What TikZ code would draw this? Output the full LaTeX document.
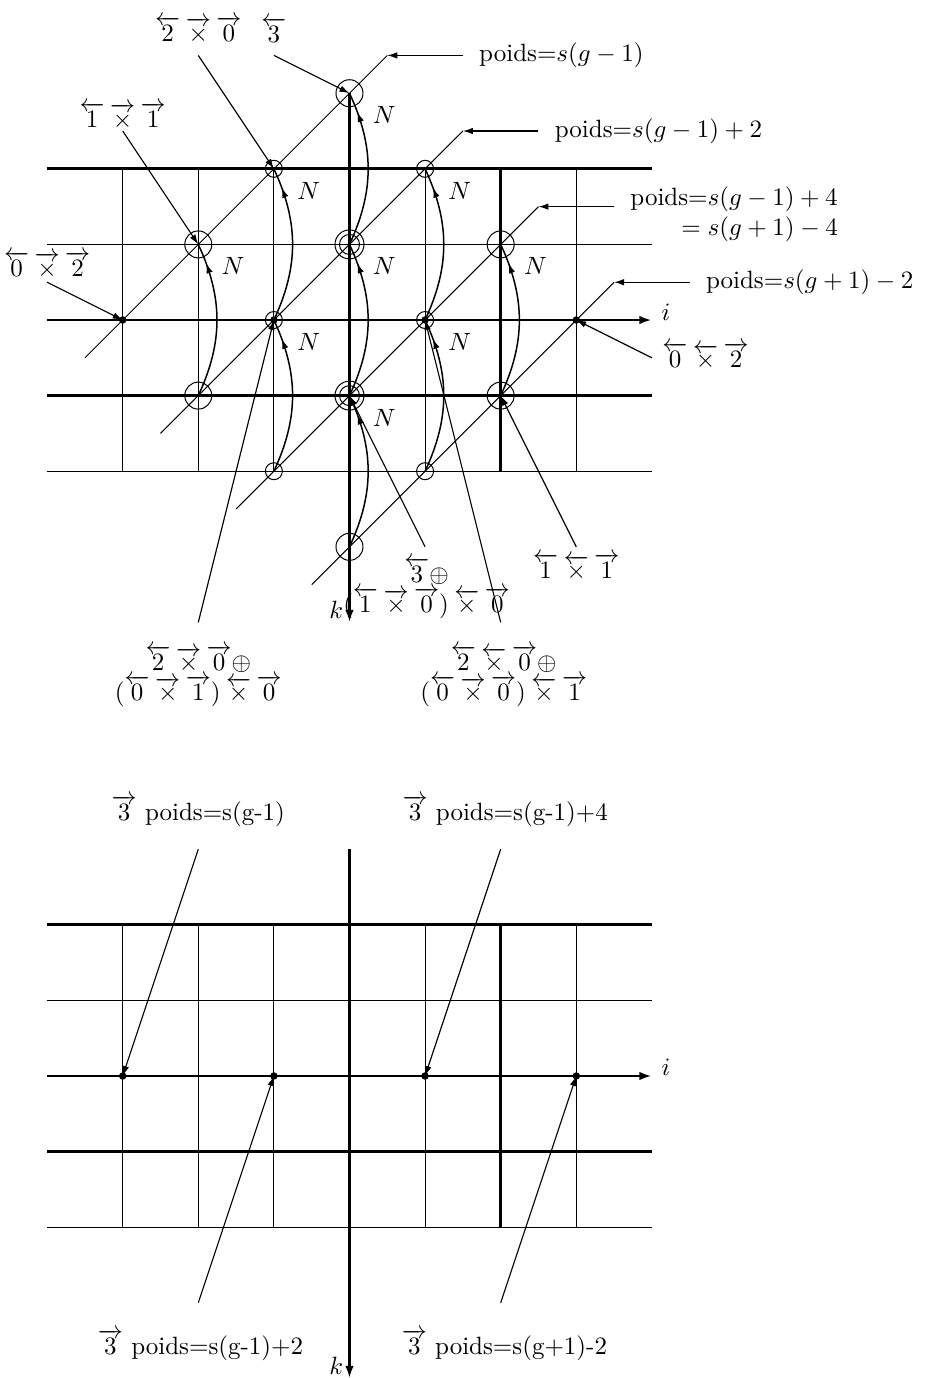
\documentclass[tikz,border=0pt]{standalone}
\usepackage{amsmath}
\usepackage{amssymb}
\usepackage{tikz}
\usetikzlibrary{calc,positioning,arrows.meta,decorations.markings}
\newcommand{\gch}[1]{\overleftarrow{#1}}
\newcommand{\drt}[1]{\overrightarrow{#1}}
\newcommand{\xg}{\mathbin{\overleftarrow{\times}}}
\newcommand{\xd}{\mathbin{\overrightarrow{\times}}}
\tikzset{fin/.style={line width=0.4pt}}
\tikzset{epais/.style={line width=1.1pt}}
\tikzset{axe/.style={line width=1.1pt, -{Latex[length=5pt,width=3.4pt]}}}
\tikzset{fleche/.style={line width=0.45pt, ->}}
\tikzset{saut/.style={line width=0.6pt, postaction={decorate},
  decoration={markings, mark=at position 0.87 with {\arrow{>}}}}}
\tikzset{etiq/.style={inner sep=2pt, align=center}}

\begin{document}
\begin{tikzpicture}[x=30.24pt, y=30.24pt, >={Latex[length=4pt,width=2.6pt]}]
  \useasboundingbox (-4.623,4.233) rectangle (7.679,-13.995);
  % les deux grilles
  \foreach \o/\n in {0/h,-10/b} {
    \foreach \x in {-3,-2,-1,1,3} \draw[fin] (\x,\o+2) -- (\x,\o-2);
    \draw[epais] (2,\o+2) -- (2,\o-2);
    \foreach \y in {1,-2} \draw[fin] (-4,\o+\y) -- (4,\o+\y);
    \foreach \y in {2,-1} \draw[epais] (-4,\o+\y) -- (4,\o+\y);
    \draw[axe] (-4,\o) -- (4,\o) node[anchor=base west] (i\n) {$i$};
    \draw[axe] (0,\o+3) -- (0,\o-4) node[anchor=south east, inner sep=1pt, xshift=-1pt] (k\n) {$k$};
  }
  % diagonales
  \foreach \n in {0,...,3} {
    \draw[fin] (-3.5+\n,-0.5-\n) -- (0.5+\n,3.5-\n) coordinate (e\n);
    \coordinate (u\n) at (1.5+\n,3.5-\n);
  }
  \foreach \p/\x/\y in {p1/-3/0, p2/-2/1, p3/-1/2, p4/0/3, q1/-2/-1, q2/-1/0, q3/0/1, q4/1/2,
      r1/-1/-2, r2/0/-1, r3/1/0, r4/2/1, s1/0/-3, s2/1/-2, s3/2/-1, s4/3/0,
      d1/-3/-10, d2/-1/-10, d3/1/-10, d4/3/-10}
    \coordinate (\p) at (\x,\y);
  \foreach \p in {p2,p4,q1,r4,s1,s3} \draw[fin] (\p) circle (5.4pt);
  \foreach \p in {q3,r2} \draw[fin] (\p) circle (4pt) (\p) circle (5.8pt);
  \foreach \p in {p3,q2,q4,r1,r3,s2} \draw[fin] (\p) circle (3.4pt);
  \foreach \p in {p1,q2,r3,s4,d1,d2,d3,d4} \fill (\p) circle (1.5pt);
  % sauts N
  \foreach \a/\b [count=\i] in {q3/p4,q2/p3,r3/q4,q1/p2,r2/q3,s3/r4,r1/q2,s2/r3,s1/r2} {
    \draw[saut] (\a) to[bend right=25] (\b);
    \node (n\i) at ($(\b)+(0.46,-0.29)$) {$N$};
  }
  % poids
  \node[right=3pt of u0] (w0) {poids=$s(g-1)$};
  \node[right=3pt of u1] (w1) {poids=$s(g-1)+2$};
  \node[right=3pt of u2, yshift=-3pt, align=right] (w2) {poids=$s(g-1)+4$\\$=s(g+1)-4$};
  \node[right=3pt of u3] (w3) {poids=$s(g+1)-2$};
  \foreach \n in {0,...,3} \draw[fleche] (u\n) -- (e\n);
  % etiquettes du haut
  \node[etiq] (t1) at (-2,3.84) {$\gch{2}\xd\drt{0}$};
  \node[etiq] (t2) at (-1,3.84) {$\gch{3}$};
  \node[etiq] (t3) at (-3,2.7) {$\gch{1}\xd\drt{1}$};
  \node[etiq] (t4) at (-4,0.73) {$\gch{0}\xd\drt{2}$};
  \node[etiq] (t5) at (4.71,-0.48) {$\gch{0}\xg\drt{2}$};
  \node[etiq] (t6) at (3,-3.27) {$\gch{1}\xg\drt{1}$};
  \node[etiq] (t7) at (1.02,-3.55) {$\gch{3}\oplus$\\$(\gch{1}\xd\drt{0})\xg\drt{0}$};
  \node[etiq] (t8) at (2.04,-4.71) {$\gch{2}\xg\drt{0}\oplus$\\$(\gch{0}\xd\drt{0})\xg\drt{1}$};
  \node[etiq] (t9) at (-2,-4.71) {$\gch{2}\xd\drt{0}\oplus$\\$(\gch{0}\xd\drt{1})\xg\drt{0}$};
  \foreach \c/\x/\y/\p in {a1/-2/3.5/p3, a2/-1/3.5/p4, a3/-3/2.5/p2, a4/-4/0.5/p1,
      a5/4/-0.5/s4, a6/3/-3/s3, a7/1/-3/r2, a8/2/-4/r3, a9/-2/-4/q2}
    \draw[fleche] (\x,\y) coordinate (\c) -- (\p);
  % etiquettes du bas
  \node[etiq] (b1) at (-2,-6.5) {$\drt{3}$ poids=s(g-1)};
  \node[etiq] (b2) at (2.06,-6.5) {$\drt{3}$ poids=s(g-1)+4};
  \node[etiq] (b3) at (-1.97,-13.56) {$\drt{3}$ poids=s(g-1)+2};
  \node[etiq] (b4) at (2.05,-13.56) {$\drt{3}$ poids=s(g+1)-2};
  \foreach \c/\x/\y/\p in {c1/-2/-7/d1, c2/2/-7/d3, c3/-2/-13/d2, c4/2/-13/d4}
    \draw[fleche] (\x,\y) coordinate (\c) -- (\p);
\end{tikzpicture}
\end{document}
